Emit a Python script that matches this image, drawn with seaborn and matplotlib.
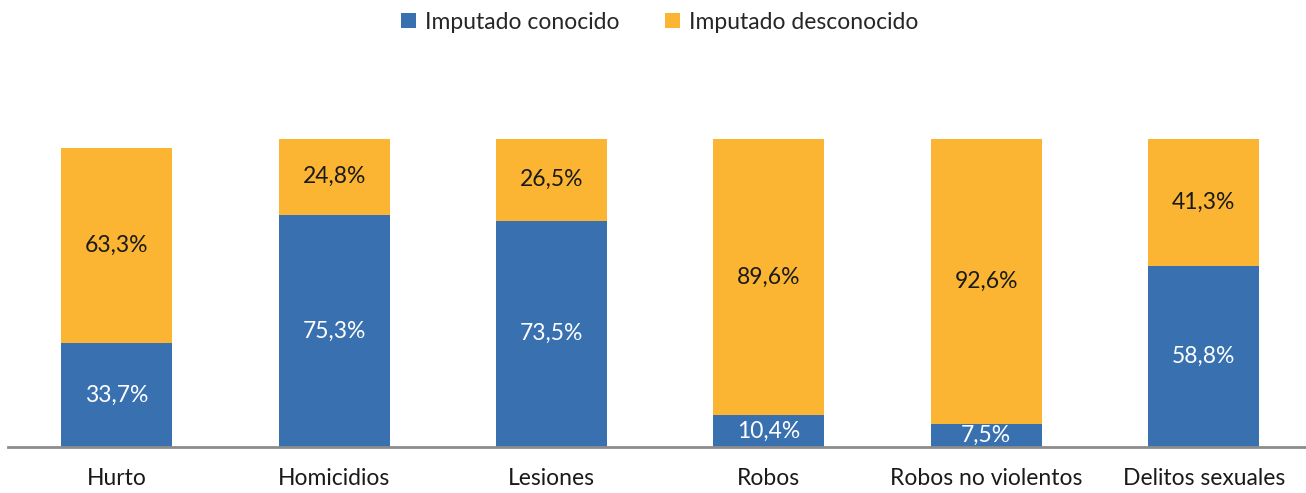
"""Stacked bars: share of crimes with known vs unknown suspect."""

import matplotlib

matplotlib.use("Agg")
import matplotlib.pyplot as plt
import pandas as pd
import seaborn as sns

categories = ["Hurto", "Homicidios", "Lesiones", "Robos", "Robos no violentos", "Delitos sexuales"]
conocido = [33.7, 75.3, 73.5, 10.4, 7.5, 58.8]
desconocido = [63.3, 24.8, 26.5, 89.6, 92.6, 41.3]

BLUE = "#3870B0"
ORANGE = "#FBB532"
FONT_SIZE = 16.5


def pct(value):
    return f"{value:.1f}".replace(".", ",") + "%"


def main():
    sns.set_theme(style="white")
    plt.rcParams["font.family"] = ["Lato", "DejaVu Sans"]

    data = pd.DataFrame({
        "categoria": categories,
        "conocido": conocido,
        "desconocido": desconocido,
    })
    data["total"] = data["conocido"] + data["desconocido"]

    fig = plt.figure(figsize=(13.06, 4.93), dpi=100)
    ax = fig.add_axes([8 / 1306, 46 / 493, 1298 / 1306, 387 / 493])

    # orange bar holds the full stack, blue sits on top of its lower part
    sns.barplot(data=data, x="categoria", y="total", color=ORANGE, saturation=1,
                width=0.51, linewidth=0, ax=ax, label="Imputado desconocido")
    sns.barplot(data=data, x="categoria", y="conocido", color=BLUE, saturation=1,
                width=0.51, linewidth=0, ax=ax, label="Imputado conocido")

    for i, row in data.iterrows():
        ax.text(i, row["conocido"] / 2, pct(row["conocido"]), ha="center", va="center",
                color="white", fontsize=FONT_SIZE)
        ax.text(i, row["conocido"] + row["desconocido"] / 2, pct(row["desconocido"]),
                ha="center", va="center", color="#1a1a1a", fontsize=FONT_SIZE)

    ax.set_xlim(-0.5, -0.5 + 1298 / 217.4)
    ax.set_ylim(0, 125.6)
    ax.set_xlabel("")
    ax.set_ylabel("")
    ax.set_yticks([])
    ax.tick_params(axis="x", length=0, pad=15, labelsize=FONT_SIZE, labelcolor="#1a1a1a")
    for side in ["top", "right", "left"]:
        ax.spines[side].set_visible(False)
    ax.spines["bottom"].set_color("#8c8c8c")
    ax.spines["bottom"].set_linewidth(2)

    handles, labels = ax.get_legend_handles_labels()
    if ax.get_legend():
        ax.get_legend().remove()
    order = [labels.index("Imputado conocido"), labels.index("Imputado desconocido")]
    fig.legend([handles[k] for k in order], [labels[k] for k in order],
               loc="upper center", bbox_to_anchor=(0.505, 1.018), ncol=2, frameon=False,
               fontsize=FONT_SIZE, handlelength=0.65, handleheight=0.65, columnspacing=2.0,
               handletextpad=0.4)

    fig.savefig("out.png", dpi=100)
    plt.close(fig)


if __name__ == "__main__":
    main()
